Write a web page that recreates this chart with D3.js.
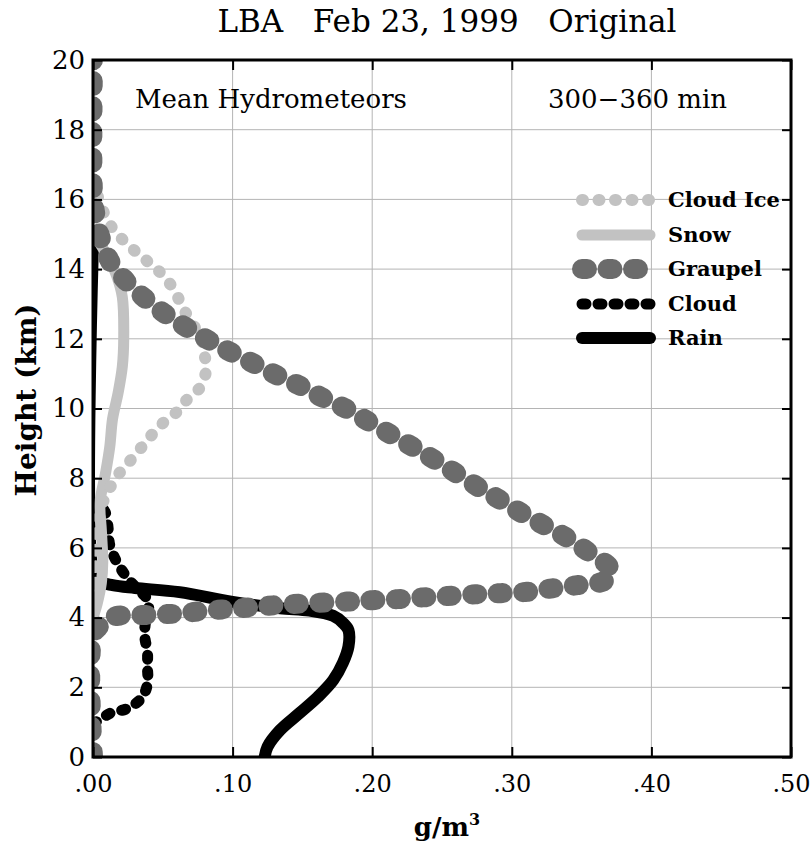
<!DOCTYPE html>
<html>
<head>
<meta charset="utf-8">
<script src="https://cdn.jsdelivr.net/npm/d3@7"></script>
<style>
  html, body { margin: 0; padding: 0; background: #fff; }
  svg { display: block; }
  text { font-family: "DejaVu Serif", serif; fill: #000; }
</style>
</head>
<body>
<svg id="chart" width="811" height="841"></svg>
<script>
// Mean hydrometeor profiles, LBA case of 23 Feb 1999 (300-360 min average)
const seriesNames = ["Cloud Ice", "Snow", "Graupel", "Cloud", "Rain"];

// Mixing ratios (g/m^3) with the height (km) at which each was sampled
const cloudIceValue  = [0.001, 0.002, 0.003, 0.007, 0.012, 0.019, 0.026, 0.035, 0.042, 0.050, 0.060, 0.067, 0.077, 0.081, 0.080, 0.078, 0.071, 0.064, 0.059, 0.052, 0.044, 0.035, 0.027, 0.018, 0.011, 0.005, 0.001];
const cloudIceHeight = [4.5, 5.5, 6.5, 7.29, 7.72, 8.15, 8.47, 8.9, 9.24, 9.58, 9.9, 10.24, 10.62, 11.1, 11.53, 11.97, 12.45, 12.91, 13.34, 13.74, 14.06, 14.35, 14.63, 14.98, 15.35, 15.9, 16.4];

const snowValue  = [0.000, 0.003, 0.006, 0.007, 0.006, 0.005, 0.009, 0.012, 0.014, 0.018, 0.021, 0.022, 0.021, 0.017, 0.010, 0.004, 0.000];
const snowHeight = [4.0, 4.4, 5.0, 5.6, 6.5, 7.3, 8.15, 8.9, 9.7, 10.45, 11.2, 12.0, 13.2, 13.8, 14.4, 14.8, 15.1];

const graupelValue  = [0.000, 0.000, 0.006, 0.014, 0.034, 0.062, 0.081, 0.098, 0.115, 0.135, 0.157, 0.182, 0.200, 0.218, 0.236, 0.254, 0.274, 0.292, 0.311, 0.329, 0.347, 0.365, 0.372, 0.370, 0.355, 0.340, 0.324, 0.307, 0.292, 0.277, 0.245, 0.229, 0.214, 0.198, 0.183, 0.165, 0.150, 0.133, 0.117, 0.100, 0.085, 0.068, 0.053, 0.039, 0.025, 0.013, 0.006, 0.002, 0.000, 0.000];
const graupelHeight = [0.0, 3.5, 3.8, 4.02, 4.07, 4.12, 4.2, 4.25, 4.30, 4.37, 4.42, 4.46, 4.5, 4.53, 4.58, 4.62, 4.67, 4.7, 4.74, 4.84, 4.93, 5.03, 5.25, 5.45, 5.88, 6.28, 6.63, 7.0, 7.37, 7.72, 8.52, 8.9, 9.24, 9.61, 9.96, 10.3, 10.62, 10.93, 11.25, 11.59, 11.91, 12.3, 12.68, 13.1, 13.6, 14.17, 14.83, 15.5, 16.2, 20.0];

const cloudValue  = [0.000, 0.006, 0.012, 0.025, 0.035, 0.039, 0.039, 0.039, 0.037, 0.038, 0.040, 0.031, 0.024, 0.017, 0.012, 0.011, 0.009, 0.004];
const cloudHeight = [0.95, 1.1, 1.25, 1.4, 1.7, 2.1, 2.6, 3.0, 3.5, 4.0, 4.45, 4.85, 5.17, 5.6, 6.08, 6.5, 7.0, 7.3];

const rainValue  = [0.123, 0.125, 0.134, 0.148, 0.161, 0.172, 0.179, 0.183, 0.183, 0.179, 0.172, 0.155, 0.134, 0.100, 0.062, 0.030, 0.014, 0.004, 0.000, 0.000];
const rainHeight = [0.0, 0.29, 0.77, 1.26, 1.72, 2.2, 2.7, 3.17, 3.64, 3.85, 4.05, 4.2, 4.27, 4.45, 4.73, 4.85, 4.93, 5.05, 5.3, 14.7];

const xTicks = [0, 0.1, 0.2, 0.3, 0.4, 0.5];
const yTicks = [0, 2, 4, 6, 8, 10, 12, 14, 16, 18, 20];

const svg = d3.select("#chart");
const plotL = 93, plotR = 791, plotT = 60, plotB = 757;

const x = d3.scaleLinear().domain([0, 0.5]).range([plotL, plotR]);
const y = d3.scaleLinear().domain([0, 20]).range([plotB, plotT]);

// grid
const grid = svg.append("g").attr("stroke", "#b4b4b4").attr("stroke-width", 1);
xTicks.slice(1, -1).forEach(t => grid.append("line")
  .attr("x1", x(t)).attr("x2", x(t)).attr("y1", plotT).attr("y2", plotB));
yTicks.slice(1, -1).forEach(t => grid.append("line")
  .attr("x1", plotL).attr("x2", plotR).attr("y1", y(t)).attr("y2", y(t)));

// line styles, drawn back to front
const styles = {
  "Rain":      { color: "#000000", width: 12, dash: null },
  "Cloud":     { color: "#000000", width: 11, dash: "4,12" },
  "Snow":      { color: "#c2c2c2", width: 11, dash: null },
  "Cloud Ice": { color: "#c2c2c2", width: 12, dash: "1,15.5" },
  "Graupel":   { color: "#6b6b6b", width: 20, dash: "5,20.5" }
};
const profiles = {
  "Cloud Ice": d3.zip(cloudIceValue, cloudIceHeight),
  "Snow": d3.zip(snowValue, snowHeight),
  "Graupel": d3.zip(graupelValue, graupelHeight),
  "Cloud": d3.zip(cloudValue, cloudHeight),
  "Rain": d3.zip(rainValue, rainHeight)
};

svg.append("clipPath").attr("id", "plotclip").append("rect")
  .attr("x", plotL).attr("y", plotT).attr("width", plotR - plotL).attr("height", plotB - plotT);

const line = d3.line()
  .x(d => x(d[0])).y(d => y(d[1]))
  .curve(d3.curveCatmullRom.alpha(0.5));

const plot = svg.append("g").attr("clip-path", "url(#plotclip)");
["Rain", "Cloud", "Snow", "Cloud Ice", "Graupel"].forEach(name => {
  const s = styles[name];
  plot.append("path")
    .attr("d", line(profiles[name]))
    .attr("fill", "none")
    .attr("stroke", s.color)
    .attr("stroke-width", s.width)
    .attr("stroke-linecap", "round")
    .attr("stroke-linejoin", "round")
    .attr("stroke-dasharray", s.dash);
});

// frame
svg.append("rect")
  .attr("x", plotL).attr("y", plotT).attr("width", plotR - plotL).attr("height", plotB - plotT)
  .attr("fill", "none").attr("stroke", "#000").attr("stroke-width", 3);

// axes
const fmtX = d => d3.format(".2f")(d).replace(/^0/, "");
const xAxis = svg.append("g").attr("transform", `translate(0,${plotB})`)
  .call(d3.axisBottom(x).tickValues(xTicks).tickFormat(fmtX).tickSizeInner(-10).tickSizeOuter(0).tickPadding(18));
const xAxisTop = svg.append("g").attr("transform", `translate(0,${plotT})`)
  .call(d3.axisTop(x).tickValues(xTicks).tickFormat("").tickSizeInner(-10).tickSizeOuter(0));
const yAxis = svg.append("g").attr("transform", `translate(${plotL},0)`)
  .call(d3.axisLeft(y).tickValues(yTicks).tickFormat(d3.format("d")).tickSizeInner(-9).tickSizeOuter(0).tickPadding(8));
const yAxisRight = svg.append("g").attr("transform", `translate(${plotR},0)`)
  .call(d3.axisRight(y).tickValues(yTicks).tickFormat("").tickSizeInner(-9).tickSizeOuter(0));

[xAxis, xAxisTop, yAxis, yAxisRight].forEach(g => {
  g.select(".domain").remove();
  g.selectAll(".tick line").attr("stroke", "#000").attr("stroke-width", 2);
});
xAxis.selectAll(".tick text")
  .attr("font-family", "DejaVu Sans").attr("font-size", 24).attr("fill", "#000");
yAxis.selectAll(".tick text")
  .attr("font-family", "DejaVu Sans").attr("font-size", 26).attr("fill", "#000");

// titles
svg.append("text").attr("x", 447).attr("y", 32).attr("text-anchor", "middle")
  .attr("font-size", 31).style("white-space", "pre")
  .text("LBA   Feb 23, 1999   Original");
svg.append("text").attr("x", 135).attr("y", 108).attr("font-size", 26)
  .text("Mean Hydrometeors");
svg.append("text").attr("x", 727).attr("y", 108).attr("text-anchor", "end").attr("font-size", 26)
  .text("300\u2212360 min");

svg.append("text").attr("transform", "translate(36,400) rotate(-90)")
  .attr("text-anchor", "middle").attr("font-size", 28).attr("font-weight", "bold")
  .text("Height (km)");

const xl = svg.append("text").attr("x", 447).attr("y", 836).attr("text-anchor", "middle")
  .attr("font-size", 26).attr("font-weight", "bold");
xl.append("tspan").text("g/m");
xl.append("tspan").attr("dy", -11).attr("font-size", 16).text("3");

// legend
const legend = svg.append("g");
const legendRows = [200, 235, 269, 304, 338];
seriesNames.forEach((name, i) => {
  const s = styles[name];
  const yy = legendRows[i];
  legend.append("line")
    .attr("x1", 582).attr("x2", name === "Graupel" ? 642 : 650)
    .attr("y1", yy).attr("y2", yy)
    .attr("stroke", s.color).attr("stroke-width", s.width)
    .attr("stroke-linecap", "round")
    .attr("stroke-dasharray", s.dash);
  legend.append("text").attr("x", 668).attr("y", yy + 7)
    .attr("font-size", 21).attr("font-weight", "bold").text(name);
});
</script>
</body>
</html>
